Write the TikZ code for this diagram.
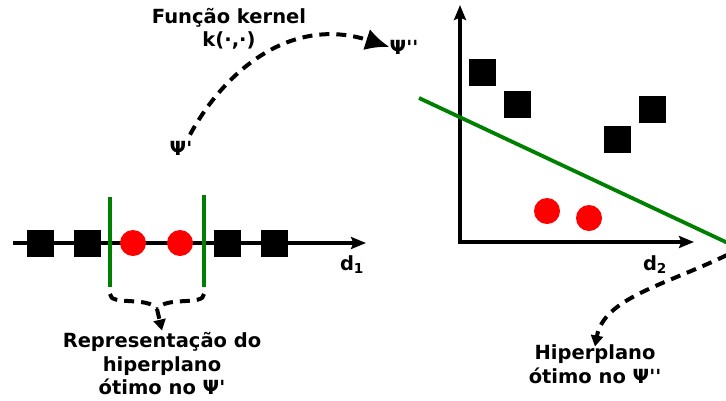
\documentclass[tikz,border=0pt]{standalone}
\usepackage{fontspec}
\setmainfont{DejaVu Sans}
\usetikzlibrary{arrows.meta}
\newcommand{\tick}{\textquotesingle}
\tikzset{
  sq/.style={fill=black, rectangle, inner sep=0pt, minimum size=27pt},
  dot/.style={fill=red, circle, inner sep=0pt, minimum size=26pt},
  axis/.style={line width=3.5pt, -{Stealth[length=15pt,width=12pt,inset=2.5pt]}},
  hyp/.style={draw=green!50!black, line width=3.8pt},
  dashcurve/.style={line width=4pt, dash pattern=on 10pt off 7pt},
  lbl/.style={align=center, inner sep=0pt, font=\bfseries\fontsize{19.5}{23.5}\selectfont}
}
\begin{document}
\begin{tikzpicture}[x=1pt, y=-1pt]
    \useasboundingbox (0,0) rectangle (726,400);

        % left space: the line d1
        \coordinate (a0) at (13,243);
        \coordinate (a1) at (366,243);
        \draw[axis] (a0) -- (a1);
        \node[lbl] (d1) at (352,265) {d\textsubscript{1}};

        \node[sq] (s1) at (40,243) {};
        \node[sq] (s2) at (87,243) {};
        \node[dot] (c1) at (133,243) {};
        \node[dot] (c2) at (180,243) {};
        \node[sq] (s3) at (227,243) {};
        \node[sq] (s4) at (274,243) {};

        % hyperplane in psi'
        \coordinate (g1t) at (110,197);
        \coordinate (g1b) at (110,287);
        \coordinate (g2t) at (204,195);
        \coordinate (g2b) at (204,287);
        \draw[hyp] (g1t) -- (g1b);
        \draw[hyp] (g2t) -- (g2b);

        \node[lbl] (rep) at (162,364) {Representação do\\hiperplano\\ótimo no Ψ\tick};

        % brace under the hyperplane
        \coordinate (bl) at (110,294);
        \coordinate (br) at (204,294);
        \coordinate (bm) at (157,309);
        \draw[dashcurve] (bl) .. controls (110,306) and (148,296) .. (bm);
        \draw[dashcurve] (br) .. controls (204,306) and (166,296) .. (bm);
        \draw[dashcurve, -{Triangle[length=11pt,width=12pt]}] (bm) -- ([yshift=2pt]rep.north);

        % kernel mapping
        \node[lbl] (psi1) at (181,148) {Ψ\tick};
        \node[lbl] (psi2) at (404,47) {Ψ\tick\tick};
        \node[lbl] (ker) at (229,29) {Função kernel\\k(·,·)};
        \draw[dashcurve, -{Latex[length=24pt,width=22pt]}] ([xshift=9pt,yshift=6pt]psi1.north) .. controls (224,72) and (290,15) .. (psi2.west);

        % right space: the plane d2
        \coordinate (o) at (460,242);
        \coordinate (ytop) at (460,5);
        \coordinate (xend) at (694,242);
        \draw[axis] (o) -- (ytop);
        \draw[axis] ([xshift=-1.75pt]o) -- (xend);
        \node[lbl] (d2) at (655,265) {d\textsubscript{2}};

        \node[sq] (s5) at (482,72) {};
        \node[sq] (s6) at (517,104) {};
        \node[sq] (s7) at (617,139) {};
        \node[sq] (s8) at (652,109) {};
        \node[dot] (c3) at (547,211) {};
        \node[dot] (c4) at (589,218) {};

        % hyperplane in psi''
        \coordinate (h0) at (419,98);
        \coordinate (h1) at (730,244);
        \draw[hyp] (h0) -- (h1);

        \node[lbl] (hip) at (595,364) {Hiperplano\\ótimo no Ψ\tick\tick};
        \coordinate (hs) at (727,255);
        \draw[dashcurve, -{Triangle[length=11pt,width=12pt]}] (hs) .. controls (665,285) and (604,298) .. ([yshift=-2pt]hip.north);

\end{tikzpicture}
\end{document}
